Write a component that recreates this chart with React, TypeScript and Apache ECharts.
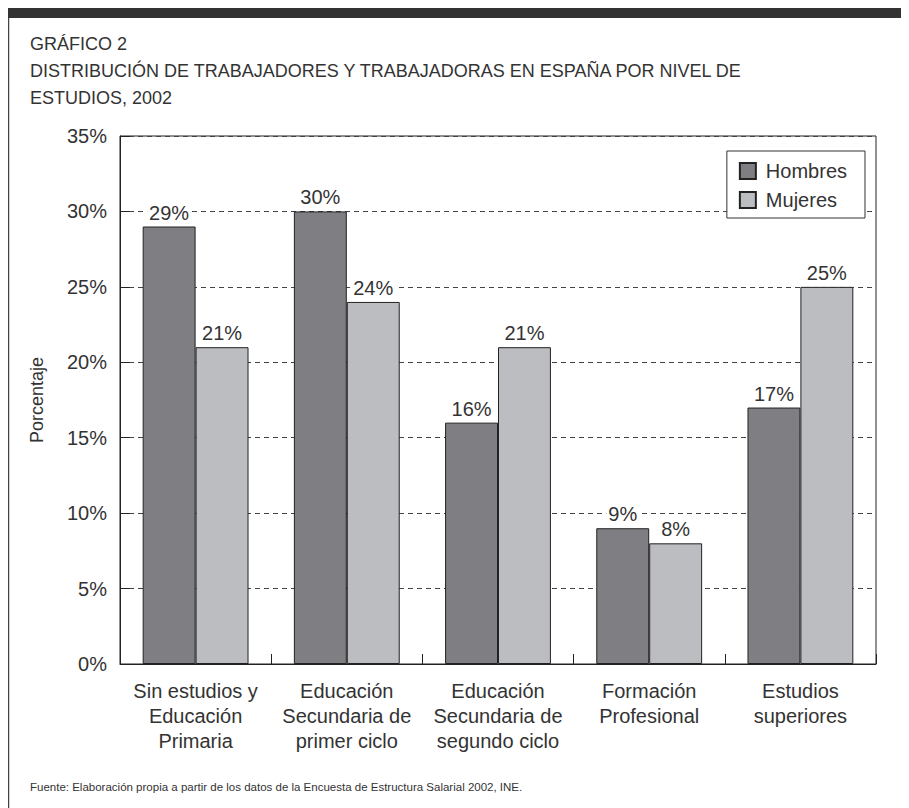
import React, { useEffect, useRef } from "react";
import * as echarts from "echarts";

const categories = [
  "Sin estudios y\nEducación\nPrimaria",
  "Educación\nSecundaria de\nprimer ciclo",
  "Educación\nSecundaria de\nsegundo ciclo",
  "Formación\nProfesional",
  "Estudios\nsuperiores",
];
const hombres = [29, 30, 16, 9, 17];
const mujeres = [21, 24, 21, 8, 25];
const titleLines = [
  "GRÁFICO 2",
  "DISTRIBUCIÓN DE TRABAJADORES Y TRABAJADORAS EN ESPAÑA POR NIVEL DE",
  "ESTUDIOS, 2002",
];
const footnote =
  "Fuente: Elaboración propia a partir de los datos de la Encuesta de Estructura Salarial 2002, INE.";

const FONT = "'Liberation Sans', Arial, Helvetica, sans-serif";
const TXT = "#333";

export default function App() {
  const ref = useRef<HTMLDivElement>(null);
  useEffect(() => {
    if (!ref.current) return;
    const chart = echarts.init(ref.current, undefined, { renderer: "svg" });
    const labelStyle = {
      show: true,
      position: "top" as const,
      formatter: "{c}%",
      color: TXT,
      fontSize: 20,
      fontFamily: FONT,
      distance: 4,
      backgroundColor: "#fff",
      padding: [0, 2, 0, 2],
    };
    chart.setOption({
      animation: false,
      backgroundColor: "#fff",
      textStyle: { fontFamily: FONT },
      grid: {
        left: 112,
        right: 33,
        top: 128,
        bottom: 144,
        show: true,
        borderColor: "#222",
        borderWidth: 1,
        containLabel: false,
      },
      legend: {
        data: ["Hombres", "Mujeres"],
        orient: "vertical",
        right: 44,
        top: 143,
        itemWidth: 16,
        itemHeight: 16,
        itemGap: 9,
        padding: [10, 18, 8, 12],
        borderColor: "#333",
        borderWidth: 1,
        backgroundColor: "#fff",
        icon: "rect",
        textStyle: { fontSize: 20, color: TXT, fontFamily: FONT, padding: [0, 0, 0, 5] },
      },
      xAxis: {
        type: "category",
        data: categories,
        axisLine: { show: true, lineStyle: { color: "#222" } },
        axisTick: { show: true, inside: true, length: 10, lineStyle: { color: "#222" } },
        axisLabel: {
          color: TXT,
          fontSize: 20,
          fontFamily: FONT,
          lineHeight: 25,
          margin: 14,
          interval: 0,
        },
      },
      yAxis: {
        type: "value",
        min: 0,
        max: 35,
        interval: 5,
        name: "Porcentaje",
        nameLocation: "middle",
        nameGap: 74,
        nameTextStyle: { fontSize: 18, color: TXT, fontFamily: FONT },
        axisLine: { show: true, lineStyle: { color: "#222" } },
        axisTick: { show: true, inside: true, length: 10, lineStyle: { color: "#222" } },
        axisLabel: {
          formatter: "{value}%",
          color: TXT,
          fontSize: 20,
          fontFamily: FONT,
          margin: 13,
        },
        splitLine: {
          show: true,
          lineStyle: { color: "#444", type: [5, 4], width: 1 },
        },
      },
      series: [
        {
          name: "Hombres",
          type: "bar",
          data: hombres,
          barWidth: "35%",
          barGap: "0%",
          itemStyle: { color: "#7f7f83", borderColor: "#222", borderWidth: 1 },
          label: labelStyle,
        },
        {
          name: "Mujeres",
          type: "bar",
          data: mujeres,
          barWidth: "35%",
          itemStyle: { color: "#bcbdc1", borderColor: "#222", borderWidth: 1 },
          label: labelStyle,
        },
      ],
      graphic: [
        {
          type: "rect",
          shape: { x: 0, y: 0, width: 901, height: 10 },
          style: { fill: "#333" },
        },
        {
          type: "line",
          shape: { x1: 0.5, y1: 10, x2: 0.5, y2: 800 },
          style: { stroke: "#444", lineWidth: 1.5 },
        },
        ...titleLines.map((t, i) => ({
          type: "text",
          left: 22,
          top: 27 + i * 27,
          style: { text: t, fontSize: 18, fill: TXT, fontFamily: FONT },
        })),
        {
          type: "text",
          left: 22,
          top: 773,
          style: { text: footnote, fontSize: 11.5, fill: TXT, fontFamily: FONT },
        },
      ],
    });
    return () => chart.dispose();
  }, []);
  return <div ref={ref} style={{ width: 901, height: 800 }} />;
}
